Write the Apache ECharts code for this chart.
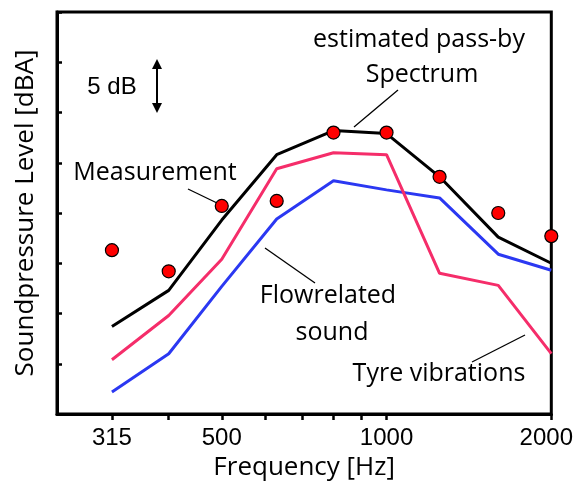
<!DOCTYPE html>
<html>
<head>
<meta charset="utf-8">
<script src="https://cdn.jsdelivr.net/npm/echarts@6/dist/echarts.min.js"></script>
<style>
html,body{margin:0;padding:0;background:#fff;}
#chart{width:576px;height:487px;}
</style>
</head>
<body>
<div id="chart"></div>
<script>
// Third-octave band frequencies [Hz]
var frequencies = [315, 400, 500, 630, 800, 1000, 1250, 1600, 2000];
// Levels in dB above the bottom of the axis (axis has no numeric labels; 5 dB per tick)
var passBySpectrum = [8.7, 12.3, 19.3, 25.8, 28.2, 27.9, 23.6, 17.6, 15.0];
var tyreVibrations = [5.4, 9.8, 15.4, 24.4, 26.0, 25.8, 14.0, 12.8, 6.0];
var flowRelated    = [2.2, 6.0, 12.7, 19.4, 23.2, 22.3, 21.5, 15.9, 14.3];
var measurement    = [16.3, 14.2, 20.7, 21.2, 28.0, 28.0, 23.6, 20.0, 17.7];
// Axis ticks / labels
var xTickValues = [315, 400, 500, 600, 700, 800, 900, 1000, 2000];
var xLabelValues = [315, 500, 1000, 2000];

function pairs(vals) {
  return frequencies.map(function (f, i) { return [f, vals[i]]; });
}

var chart = echarts.init(document.getElementById('chart'), null, {renderer: 'canvas'});
var tickFont = 'Liberation Sans, Arial, sans-serif';
var textFont = 'Open Sans, Noto Sans, sans-serif';

var option = {
  animation: false,
  backgroundColor: '#fff',
  grid: {
    left: 57, right: 24, top: 12, bottom: 73,
    show: true, borderColor: '#000', borderWidth: 3, backgroundColor: 'transparent'
  },
  xAxis: {
    type: 'log', logBase: 10, min: 250, max: 2000,
    name: 'Frequency [Hz]', nameLocation: 'middle', nameGap: 40,
    nameTextStyle: {fontFamily: textFont, fontSize: 26, color: '#000'},
    axisLine: {show: true, lineStyle: {color: '#000', width: 3}},
    axisTick: {show: true, customValues: xTickValues, length: 6, inside: false,
               lineStyle: {color: '#000', width: 2.5}},
    axisLabel: {
      show: true, customValues: xLabelValues, margin: 12,
      color: '#000', fontFamily: tickFont, fontSize: 24,
      formatter: function (v) { return v === 2000 ? '{r|' + v + '}' : '{n|' + v + '}'; },
      rich: {
        n: {fontFamily: tickFont, fontSize: 24, color: '#000'},
        r: {fontFamily: tickFont, fontSize: 24, color: '#000', padding: [0, 10, 0, 0]}
      }
    },
    splitLine: {show: false},
    minorTick: {show: false}
  },
  yAxis: {
    type: 'value', min: 0, max: 40, interval: 5,
    name: 'Soundpressure Level [dBA]', nameLocation: 'middle', nameGap: 18,
    nameTextStyle: {fontFamily: textFont, fontSize: 26, color: '#000'},
    axisLine: {show: true, lineStyle: {color: '#000', width: 3}},
    axisTick: {show: true, inside: true, length: 5, lineStyle: {color: '#000', width: 2.5}},
    axisLabel: {show: false},
    splitLine: {show: false}
  },
  series: [
    {type: 'line', name: 'Flowrelated sound', data: pairs(flowRelated), showSymbol: false,
     lineStyle: {color: '#2b38f2', width: 3}, z: 2},
    {type: 'line', name: 'Tyre vibrations', data: pairs(tyreVibrations), showSymbol: false,
     lineStyle: {color: '#f52d6a', width: 3}, z: 3},
    {type: 'line', name: 'estimated pass-by Spectrum', data: pairs(passBySpectrum), showSymbol: false,
     lineStyle: {color: '#000', width: 3}, z: 4},
    {type: 'scatter', name: 'Measurement', data: pairs(measurement), symbol: 'circle', symbolSize: 13,
     itemStyle: {color: '#ff0000', borderColor: '#000', borderWidth: 1.2, opacity: 1}, z: 5}
  ],
  graphic: [
    // 5 dB scale indicator
    {type: 'text', x: 112, y: 87, style: {text: '5 dB', font: '24px ' + tickFont, fill: '#000', textAlign: 'center', textVerticalAlign: 'middle'}},
    {type: 'line', shape: {x1: 157, y1: 66, x2: 157, y2: 106}, style: {stroke: '#000', lineWidth: 2}},
    {type: 'polygon', shape: {points: [[157, 59], [152, 69], [162, 69]]}, style: {fill: '#000'}},
    {type: 'polygon', shape: {points: [[157, 113], [152, 103], [162, 103]]}, style: {fill: '#000'}},
    // annotations
    {type: 'text', x: 155, y: 173, style: {text: 'Measurement', font: '25px ' + textFont, fill: '#000', textAlign: 'center', textVerticalAlign: 'middle'}},
    {type: 'line', shape: {x1: 188, y1: 189, x2: 217, y2: 203}, style: {stroke: '#000', lineWidth: 1.3}},
    {type: 'text', x: 419, y: 40, style: {text: 'estimated pass-by', font: '25px ' + textFont, fill: '#000', textAlign: 'center', textVerticalAlign: 'middle'}},
    {type: 'text', x: 422, y: 75, style: {text: 'Spectrum', font: '25px ' + textFont, fill: '#000', textAlign: 'center', textVerticalAlign: 'middle'}},
    {type: 'line', shape: {x1: 398, y1: 90, x2: 354, y2: 127}, style: {stroke: '#000', lineWidth: 1.3}},
    {type: 'text', x: 328, y: 296, style: {text: 'Flowrelated', font: '25px ' + textFont, fill: '#000', textAlign: 'center', textVerticalAlign: 'middle'}},
    {type: 'text', x: 332, y: 333, style: {text: 'sound', font: '25px ' + textFont, fill: '#000', textAlign: 'center', textVerticalAlign: 'middle'}},
    {type: 'line', shape: {x1: 265, y1: 248, x2: 315, y2: 283}, style: {stroke: '#000', lineWidth: 1.3}},
    {type: 'text', x: 439, y: 374, style: {text: 'Tyre vibrations', font: '25px ' + textFont, fill: '#000', textAlign: 'center', textVerticalAlign: 'middle'}},
    {type: 'line', shape: {x1: 472, y1: 362, x2: 525, y2: 335}, style: {stroke: '#000', lineWidth: 1.3}}
  ]
};
chart.setOption(option);
</script>
</body>
</html>
